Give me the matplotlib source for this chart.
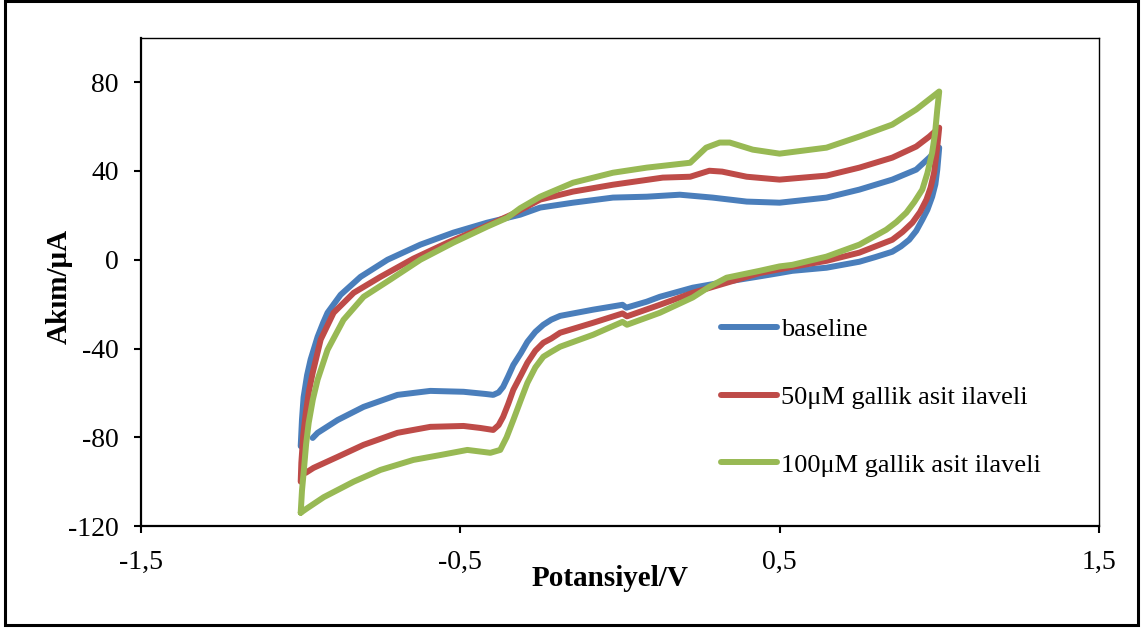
import matplotlib
matplotlib.use("Agg")
import matplotlib.pyplot as plt
from matplotlib.patches import Rectangle
from matplotlib.ticker import FuncFormatter

# cyclic voltammograms, forward (upper) and reverse (lower) branches
blue_fwd_v = [-1.0, -0.996, -0.991, -0.98, -0.969, -0.947, -0.93, -0.916, -0.875, -0.8125,
              -0.728, -0.625, -0.522, -0.416, -0.3125, -0.25, -0.147, -0.022, 0.084, 0.1875,
              0.29, 0.397, 0.5, 0.647, 0.75, 0.853, 0.928, 0.969, 1.0]
blue_fwd_i = [-84, -72, -62, -52, -45, -34.7, -28.5, -23.9, -15.8, -7.7,
              0, 6.8, 12.2, 16.7, 20.3, 23.5, 25.7, 28.0, 28.4, 29.3,
              28.0, 26.2, 25.7, 28.0, 31.6, 36.1, 40.6, 46.0, 50.5]
blue_rev_v = [1.0, 0.994, 0.988, 0.978, 0.963, 0.947, 0.928, 0.906, 0.88, 0.853, 0.8,
              0.75, 0.647, 0.54, 0.5, 0.4375, 0.334, 0.228, 0.125, 0.084, 0.02, 0.008,
              -0.084, -0.1875, -0.215, -0.24, -0.265, -0.29, -0.31, -0.334, -0.35,
              -0.366, -0.38, -0.397, -0.42, -0.49, -0.594, -0.697, -0.803, -0.884,
              -0.947, -0.9625]
blue_rev_i = [50.5, 40.6, 34, 28.4, 22.5, 18.0, 13, 9.0, 6, 3.6, 1.2,
              -0.9, -3.6, -5.0, -6.0, -7.5, -9.9, -12.6, -16.7, -18.9, -21.6, -20.3,
              -22.5, -25.3, -27, -29.3, -32.5, -37, -42, -47.4, -52.5,
              -57.3, -59.8, -60.9, -60.5, -59.5, -59.1, -60.9, -66.3, -72.2,
              -78, -80.3]

red_fwd_v = [-1.0, -0.998, -0.992, -0.984, -0.974, -0.9625, -0.9375, -0.897, -0.834, -0.75,
             -0.647, -0.54, -0.4375, -0.334, -0.25, -0.147, -0.022, 0.134, 0.22, 0.28,
             0.32, 0.397, 0.5, 0.647, 0.75, 0.853, 0.928, 0.969, 1.0]
red_fwd_i = [-100, -91.5, -79, -69, -59, -51, -36, -23.9, -14.9, -7.7,
             0.5, 7.7, 14, 20.7, 27.1, 30.7, 33.8, 37.0, 37.4, 40.1,
             39.7, 37.4, 36.1, 37.9, 41.5, 46.0, 51.0, 55.5, 59.5]
red_rev_v = [1.0, 0.994, 0.984, 0.973, 0.96, 0.94, 0.916, 0.885, 0.853, 0.75,
             0.647, 0.54, 0.4375, 0.334, 0.228, 0.125, 0.022, 0.008, -0.084, -0.1875,
             -0.215, -0.24, -0.265, -0.29, -0.31, -0.334, -0.35, -0.366, -0.38, -0.397,
             -0.4375, -0.49, -0.594, -0.697, -0.803, -0.884, -0.96, -0.984]
red_rev_i = [59.5, 51, 39.2, 32.5, 27.1, 21.5, 16.7, 12.5, 9.0, 3.2,
             -0.5, -3.2, -6.0, -10.4, -14.9, -20.3, -25.5, -24.2, -28.4, -32.9,
             -35.5, -37.4, -41, -46.4, -52, -58.6, -65, -70.8, -74.5, -76.7,
             -75.8, -74.9, -75.3, -78, -83.4, -88.8, -93.8, -96]

green_fwd_v = [-1.0, -0.996, -0.99, -0.983, -0.975, -0.962, -0.947, -0.916, -0.866, -0.803,
               -0.72, -0.625, -0.522, -0.416, -0.353, -0.3125, -0.25, -0.147, -0.022, 0.084,
               0.22, 0.27, 0.3125, 0.344, 0.416, 0.5, 0.647, 0.75, 0.853, 0.928, 1.0]
green_fwd_i = [-114, -104, -94.7, -83, -73.5, -63, -54, -40.6, -27.1, -16.7,
               -9.0, 0, 7.7, 14.9, 18.9, 23.2, 28.4, 34.7, 39.2, 41.5,
               43.7, 50.5, 52.8, 52.8, 49.6, 47.8, 50.5, 55.5, 60.9, 67.7, 75.8]
green_rev_v = [1.0, 0.994, 0.987, 0.978, 0.963, 0.947, 0.922, 0.897, 0.866, 0.834,
               0.75, 0.647, 0.54, 0.5, 0.4375, 0.334, 0.28, 0.228, 0.125, 0.022, 0.008,
               -0.084, -0.1875, -0.215, -0.24, -0.265, -0.29, -0.31, -0.334, -0.355,
               -0.375, -0.406, -0.478, -0.5625, -0.647, -0.75, -0.834, -0.928, -0.98, -1.0]
green_rev_i = [75.8, 67.7, 57, 48.3, 39, 31.6, 26, 21.2, 17, 13.5,
               6.8, 1.4, -2.3, -3.0, -5.0, -8.1, -12.2, -17, -23.9, -29.3, -28.0,
               -33.8, -39.2, -41.5, -43.7, -48.5, -55.5, -63, -72.2, -80,
               -85.7, -87, -85.7, -88, -90.2, -94.7, -100, -107, -112, -114]

labels = ["baseline", "50\u03bcM gallik asit ilaveli", "100\u03bcM gallik asit ilaveli"]
colors = ["#4A7EBB", "#BE4B48", "#98B954"]

plt.rcParams["font.family"] = ["Liberation Serif", "DejaVu Serif"]
plt.rcParams["axes.unicode_minus"] = False

fig = plt.figure(figsize=(11.47, 6.30), dpi=100)
ax = fig.add_axes([0.123, 0.165, 0.835, 0.775])

series = [
    (blue_fwd_v + blue_rev_v, blue_fwd_i + blue_rev_i),
    (red_fwd_v + red_rev_v, red_fwd_i + red_rev_i),
    (green_fwd_v + green_rev_v, green_fwd_i + green_rev_i),
]
for (v, i), lab, c in zip(series, labels, colors):
    ax.plot(v, i, color=c, lw=4.3, label=lab,
            solid_joinstyle="round", solid_capstyle="round")

ax.set_xlim(-1.5, 1.5)
ax.set_ylim(-120, 100)
ax.set_xticks([-1.5, -0.5, 0.5, 1.5])
ax.set_yticks([-120, -80, -40, 0, 40, 80])
ax.xaxis.set_major_formatter(FuncFormatter(lambda x, p: ("%g" % x).replace(".", ",")))
ax.tick_params(axis="both", direction="out", length=5, width=1.5, labelsize=20)
ax.tick_params(axis="y", pad=11)
ax.tick_params(axis="x", pad=12)

for s in ["left", "bottom"]:
    ax.spines[s].set_linewidth(1.6)
for s in ["top", "right"]:
    ax.spines[s].set_linewidth(1.0)

ax.set_xlabel("Potansiyel/V", fontsize=21, fontweight="bold")
ax.set_ylabel("Ak\u0131m/\u03bcA", fontsize=21, fontweight="bold")
ax.xaxis.set_label_coords(0.49, -0.08)
ax.yaxis.set_label_coords(-0.071, 0.49)

ax.legend(loc="upper left", bbox_to_anchor=(0.606, 0.427), frameon=False,
          fontsize=19, handlelength=2.1, handletextpad=0.15, labelspacing=1.68,
          borderpad=0, borderaxespad=0)

fig.patches.append(Rectangle((0.0044, 0.0079), 0.9877, 0.99, transform=fig.transFigure,
                             fill=False, lw=2.2, edgecolor="black"))

plt.savefig("out.png", dpi=100)
